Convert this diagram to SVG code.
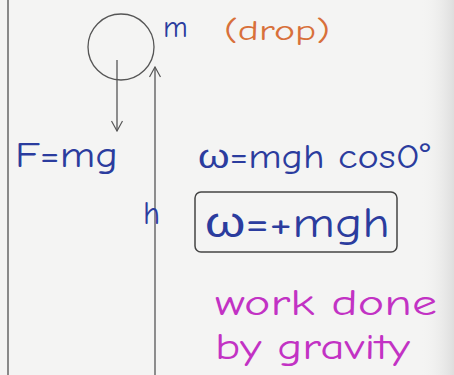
<svg xmlns="http://www.w3.org/2000/svg" width="454" height="375" viewBox="0 0 454 375">
  <defs>
    <marker id="chev" viewBox="0 0 12 12" refX="11" refY="6" markerWidth="12" markerHeight="12" markerUnits="userSpaceOnUse" orient="auto">
      <path d="M1,0.5 L11,6 L1,11.5" fill="none" stroke="#555" stroke-width="1.2"/>
    </marker>
    <linearGradient id="edge" x1="0" y1="0" x2="1" y2="0">
      <stop offset="0" stop-color="#f4f4f4" stop-opacity="0"/>
      <stop offset="1" stop-color="#cfcfcf"/>
    </linearGradient>
  </defs>
  <style>
    .line { fill: none; stroke: #555; stroke-width: 1.3; }
    .hand { font-family: "Comic Neue", "Liberation Sans", sans-serif; }
    .blue { fill: #2b3c9e; }
    .orange { fill: #d8703a; }
    .mag { fill: #c232c4; }
  </style>
  <rect x="0" y="0" width="454" height="375" fill="#f4f4f3"/>
  <rect x="420" y="0" width="34" height="375" fill="url(#edge)" opacity="0.6"/>
  <line x1="8" y1="0" x2="8" y2="375" stroke="#666" stroke-width="1.5"/>

  <g id="drop">
    <circle cx="121" cy="47" r="33" class="line" stroke="#444" stroke-width="1.6"/>
    <text x="163" y="37" class="hand blue" font-size="30">m</text>
    <text x="224" y="40" class="hand orange" font-size="28" textLength="106" lengthAdjust="spacingAndGlyphs">(drop)</text>
  </g>

  <g id="connectors">
    <line x1="117" y1="60" x2="117" y2="131" class="line" marker-end="url(#chev)"/>
    <line x1="155" y1="375" x2="155" y2="67" class="line" marker-end="url(#chev)"/>
  </g>

  <g id="force">
    <text x="15" y="167" class="hand blue" font-size="36" textLength="103" lengthAdjust="spacingAndGlyphs">F=mg</text>
  </g>

  <g id="work-eq">
    <text x="198" y="168" class="hand blue" font-size="34" textLength="232" lengthAdjust="spacingAndGlyphs">ω=mgh cos0°</text>
  </g>

  <g id="height">
    <text x="143" y="224" class="hand blue" font-size="32">h</text>
  </g>

  <g id="result">
    <rect x="195" y="192" width="202" height="60" rx="6" ry="6" fill="none" stroke="#444" stroke-width="1.5"/>
    <text x="205" y="237" class="hand blue" font-size="42" textLength="185" lengthAdjust="spacingAndGlyphs">ω=+mgh</text>
  </g>

  <g id="note">
    <text x="215" y="315" class="hand mag" font-size="37" textLength="222" lengthAdjust="spacingAndGlyphs">work done</text>
    <text x="215" y="359" class="hand mag" font-size="37" textLength="195" lengthAdjust="spacingAndGlyphs">by gravity</text>
  </g>
</svg>
